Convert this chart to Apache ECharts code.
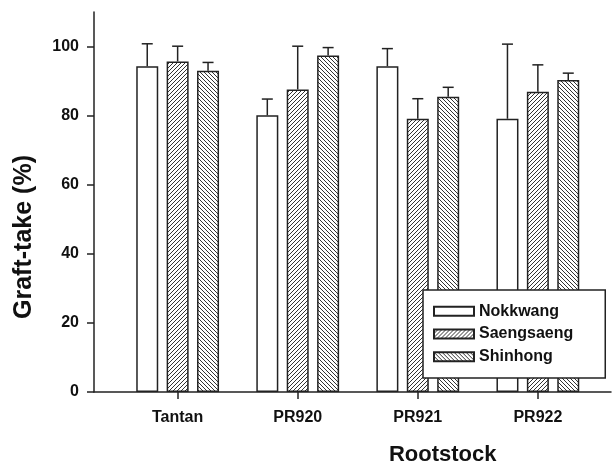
<!DOCTYPE html>
<html>
<head>
<meta charset="utf-8">
<style>
  html, body { margin: 0; padding: 0; background: #fff; }
  #chart { width: 612px; height: 464px; }
</style>
<script src="https://cdn.jsdelivr.net/npm/echarts@6/dist/echarts.min.js"></script>
</head>
<body>
<div id="chart"></div>
<script>
// data (graft-take %, mean and upper error)
var categories = ['Tantan', 'PR920', 'PR921', 'PR922'];
var seriesNames = ['Nokkwang', 'Saengsaeng', 'Shinhong'];
var nokkwang = [94.3, 80.1, 94.3, 79.1];
var saengsaeng = [95.7, 87.6, 79.1, 86.9];
var shinhong = [93.0, 97.4, 85.5, 90.3];
var nokkwangErr = [6.5, 4.7, 5.1, 21.6];
var saengsaengErr = [4.4, 12.5, 5.8, 7.8];
var shinhongErr = [2.4, 2.3, 2.7, 2.0];
var yTicks = [0, 20, 40, 60, 80, 100];

var BAR_W = 22;
var BAR_GAP = 8.4;
var INK = '#222';
var FONT = 'Liberation Sans, Arial, sans-serif';

// hatch fills
function hatch(size, forward) {
    var c = document.createElement('canvas');
    c.width = size; c.height = size;
    var ctx = c.getContext('2d');
    ctx.fillStyle = '#fff';
    ctx.fillRect(0, 0, size, size);
    ctx.strokeStyle = '#333';
    ctx.lineWidth = 1;
    ctx.beginPath();
    if (forward) {
        ctx.moveTo(0, size); ctx.lineTo(size, 0);
        ctx.moveTo(-1, 1); ctx.lineTo(1, -1);
        ctx.moveTo(size - 1, size + 1); ctx.lineTo(size + 1, size - 1);
    } else {
        ctx.moveTo(0, 0); ctx.lineTo(size, size);
        ctx.moveTo(size - 1, -1); ctx.lineTo(size + 1, 1);
        ctx.moveTo(-1, size - 1); ctx.lineTo(1, size + 1);
    }
    ctx.stroke();
    return c;
}

var fills = [
    '#fff',
    { image: hatch(4, true), repeat: 'repeat' },
    { image: hatch(4, false), repeat: 'repeat' }
];
var values = [nokkwang, saengsaeng, shinhong];
var errors = [nokkwangErr, saengsaengErr, shinhongErr];

var myChart = echarts.init(document.getElementById('chart'));

var series = [];
for (var i = 0; i < 3; i++) {
    series.push({
        name: seriesNames[i],
        type: 'bar',
        xAxisIndex: 1,
        yAxisIndex: 1,
        barWidth: BAR_W,
        barGap: (BAR_GAP / BAR_W * 100) + '%',
        itemStyle: { color: fills[i], borderColor: INK, borderWidth: 1.5 },
        data: values[i]
    });
}

var errData = [];
for (var s = 0; s < 3; s++) {
    for (var c = 0; c < categories.length; c++) {
        errData.push([c, values[s][c], errors[s][c], s]);
    }
}
series.push({
    name: 'err',
    type: 'custom',
    xAxisIndex: 1,
    yAxisIndex: 1,
    z: 5,
    data: errData,
    renderItem: function (params, api) {
        var ci = api.value(0), v = api.value(1), e = api.value(2), si = api.value(3);
        var base = api.coord([ci, v]);
        var top = api.coord([ci, v + e]);
        var x = base[0] + (si - 1) * (BAR_W + BAR_GAP);
        var st = { stroke: INK, lineWidth: 1.5 };
        return {
            type: 'group',
            children: [
                { type: 'line', shape: { x1: x, y1: base[1], x2: x, y2: top[1] }, style: st },
                { type: 'line', shape: { x1: x - 5.5, y1: top[1], x2: x + 5.5, y2: top[1] }, style: st }
            ]
        };
    }
});

option = {
    animation: false,
    backgroundColor: '#fff',
    grid: [
        { left: 94, right: 1, top: 12, bottom: 72, outerBoundsMode: 'none', containLabel: false },
        { left: 117.6, right: 14.1, top: 12, bottom: 72, outerBoundsMode: 'none', containLabel: false }
    ],
    legend: {
        data: seriesNames,
        orient: 'vertical',
        left: 423,
        top: 290,
        padding: [13.3, 32, 13.3, 10],
        itemWidth: 40,
        itemHeight: 9,
        itemGap: 6.7,
        itemTextGap: 11,
        icon: 'rect',
        backgroundColor: '#fff',
        borderColor: INK,
        borderWidth: 1.5,
        borderRadius: 0,
        textStyle: { fontFamily: FONT, fontSize: 16, fontWeight: 'bold', color: '#111' }
    },
    xAxis: [
        {
            gridIndex: 0,
            type: 'value',
            min: 0,
            max: 1,
            axisLine: { show: true, lineStyle: { color: INK, width: 1.5 } },
            axisTick: { show: false },
            axisLabel: { show: false },
            splitLine: { show: false }
        },
        {
            gridIndex: 1,
            type: 'category',
            data: categories,
            name: 'Rootstock',
            nameLocation: 'middle',
            nameGap: 52,
            nameTextStyle: { fontFamily: FONT, fontSize: 22, fontWeight: 'bold', color: '#111', padding: [0, 0, 0, 170] },
            axisLine: { show: false },
            axisTick: { show: true, alignWithLabel: true, length: 7, lineStyle: { color: INK, width: 1.5 } },
            axisLabel: { margin: 18, fontFamily: FONT, fontSize: 16, fontWeight: 'bold', color: '#111' },
            splitLine: { show: false }
        }
    ],
    yAxis: [
        {
            gridIndex: 0,
            type: 'value',
            min: 0,
            max: 110,
            name: 'Graft-take (%)',
            nameLocation: 'middle',
            nameGap: 57,
            nameTextStyle: { fontFamily: FONT, fontSize: 25, fontWeight: 'bold', color: '#111', padding: [0, 70, 0, 0] },
            axisLine: { show: true, lineStyle: { color: INK, width: 1.5 } },
            axisTick: { show: true, length: 7, customValues: yTicks, lineStyle: { color: INK, width: 1.5 } },
            axisLabel: { margin: 15, customValues: yTicks, fontFamily: FONT, fontSize: 16, fontWeight: 'bold', color: '#111' },
            splitLine: { show: false }
        },
        {
            gridIndex: 1,
            type: 'value',
            min: 0,
            max: 110,
            show: false
        }
    ],
    series: series
};

myChart.setOption(option, true);
</script>
</body>
</html>
